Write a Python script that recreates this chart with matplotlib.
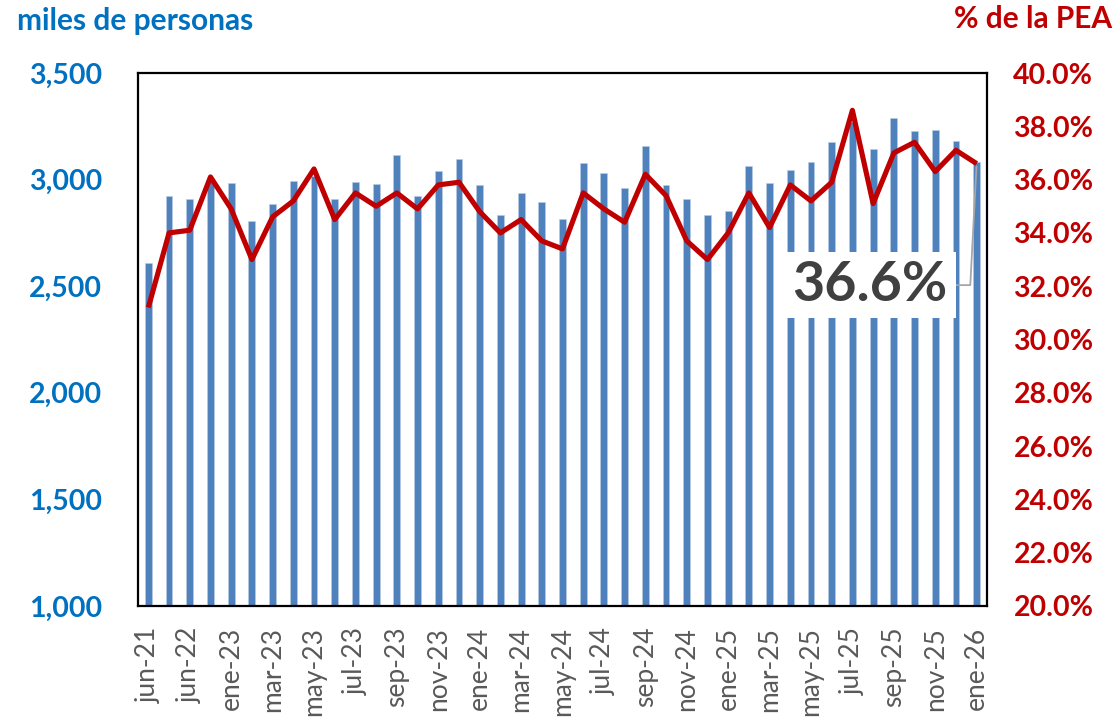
import matplotlib
matplotlib.use("Agg")
import matplotlib.pyplot as plt
from matplotlib.ticker import FuncFormatter, MultipleLocator

plt.rcParams['font.family'] = ['Lato', 'DejaVu Sans']

# ---- data ----
categories = (["jun-21", "dic-21", "jun-22", "dic-22"] +
              [f"{m}-{y}" for y in ("23", "24", "25") for m in
               ("ene", "feb", "mar", "abr", "may", "jun", "jul", "ago", "sep", "oct", "nov", "dic")] +
              ["ene-26"])
ocupados = [2607, 2923, 2909, 3000, 2985, 2806, 2884, 2993, 3015, 2910,
            2990, 2979, 3114, 2924, 3040, 3096, 2973, 2834, 2938, 2895,
            2816, 3076, 3029, 2959, 3157, 2975, 2907, 2832, 2853, 3064,
            2984, 3043, 3082, 3175, 3270, 3142, 3287, 3228, 3231, 3181, 3084]
pct_pea = [31.2, 34.0, 34.1, 36.1, 34.9, 33.0, 34.6, 35.2, 36.4, 34.5,
           35.5, 35.0, 35.5, 34.9, 35.8, 35.9, 34.8, 34.0, 34.5, 33.7,
           33.4, 35.5, 34.9, 34.4, 36.2, 35.4, 33.7, 33.0, 34.0, 35.5,
           34.2, 35.8, 35.2, 35.9, 38.6, 35.1, 37.0, 37.4, 36.3, 37.1, 36.6]
left_title = "miles de personas"
right_title = "% de la PEA"

BLUE_BAR = "#4F81BD"
BLUE_TXT = "#0070C0"
RED = "#C00000"
GRAY = "#595959"

fig = plt.figure(figsize=(11.15, 7.23), dpi=100)
ax = fig.add_axes([138/1115, 1-606/723, (987-138)/1115, (606-73)/723])
x = list(range(len(categories)))

ax.bar(x, ocupados, width=0.33, color=BLUE_BAR, edgecolor="#B9CDE5", linewidth=0.4, zorder=2)
ax.set_xlim(-0.5, len(categories) - 0.5)
ax.set_ylim(1000, 3500)
ax.yaxis.set_major_locator(MultipleLocator(500))
ax.yaxis.set_major_formatter(FuncFormatter(lambda v, p: f"{v:,.0f}"))
ax.set_xticks(x[::2])
ax.set_xticklabels(categories[::2], rotation=90, va="top", ha="center",
                   fontsize=19, color=GRAY)
ax.tick_params(axis="x", length=0, pad=15)
ax.tick_params(axis="y", length=0, pad=26, labelsize=20.5, labelcolor=BLUE_TXT)
for lab in ax.get_yticklabels():
    lab.set_fontweight("bold")
for s in ax.spines.values():
    s.set_linewidth(1.6)
    s.set_color("black")

ax2 = ax.twinx()
ax2.plot(x, pct_pea, color=RED, linewidth=3.7, solid_joinstyle="round",
         solid_capstyle="butt", zorder=3)
ax2.set_ylim(20, 40)
ax2.yaxis.set_major_locator(MultipleLocator(2))
ax2.yaxis.set_major_formatter(FuncFormatter(lambda v, p: f"{v:.1f}%"))
ax2.tick_params(axis="y", length=0, pad=19, labelsize=20.5, labelcolor=RED)
for lab in ax2.get_yticklabels():
    lab.set_fontweight("bold")
for s in ax2.spines.values():
    s.set_visible(False)

ax2.annotate(f"{pct_pea[-1]:.1f}%", xy=(x[-1], pct_pea[-1]),
             xytext=(0.862, 0.602), textcoords="axes fraction",
             ha="center", va="center", fontsize=40, fontweight="bold",
             color="#404040", zorder=5,
             bbox=dict(boxstyle="square,pad=0.15", fc="white", ec="none"),
             arrowprops=dict(arrowstyle="-", color="#A6A6A6", lw=1.3,
                             relpos=(1, 0.5), shrinkA=0, shrinkB=2,
                             connectionstyle="angle,angleA=0,angleB=87,rad=0"))

fig.text(17/1115, 1-21/723, left_title, ha="left", va="center",
         fontsize=21.5, fontweight="bold", color=BLUE_TXT)
fig.text(1112/1115, 1-19/723, right_title, ha="right", va="center",
         fontsize=21.5, fontweight="bold", color=RED)

fig.savefig("out.png", dpi=100)
